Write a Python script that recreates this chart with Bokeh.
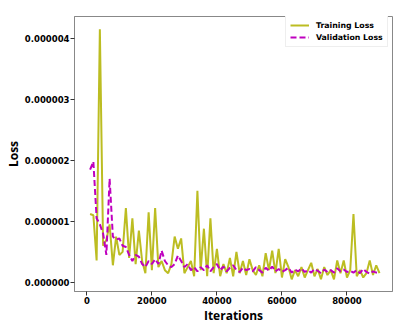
from bokeh.plotting import figure
from bokeh.embed import file_html
from bokeh.resources import INLINE
from bokeh.models import (FixedTicker, PrintfTickFormatter, NumeralTickFormatter,
                          Range1d, Legend, LegendItem)

# ---- data (loss values in units of 1e-6) ----
iterations = list(range(1000, 91000, 1000))

training_loss_e6 = [
    1.12, 1.10, 0.36, 4.15, 0.60, 0.70, 0.95, 0.28, 0.75, 0.45,
    0.50, 1.22, 0.40, 1.05, 0.30, 0.85, 0.35, 0.15, 1.15, 0.20,
    1.22, 0.25, 0.35, 0.20, 0.15, 0.30, 0.75, 0.55, 0.72, 0.15,
    0.25, 0.35, 0.10, 1.50, 0.20, 0.88, 0.10, 1.05, 0.15, 0.55,
    0.10, 0.30, 0.15, 0.40, 0.10, 0.50, 0.15, 0.35, 0.12, 0.38,
    0.20, 0.12, 0.28, 0.10, 0.48, 0.20, 0.52, 0.15, 0.55, 0.08,
    0.38, 0.25, 0.05, 0.20, 0.10, 0.25, 0.08, 0.20, 0.32, 0.10,
    0.22, 0.05, 0.25, 0.12, 0.20, 0.05, 0.36, 0.15, 0.36, 0.08,
    0.20, 1.12, 0.10, 0.20, 0.08, 0.15, 0.36, 0.12, 0.28, 0.15,
]

validation_loss_e6 = [
    1.85, 1.98, 1.05, 0.95, 0.80, 0.45, 1.70, 0.75, 0.70, 0.72,
    0.60, 0.58, 0.45, 0.35, 0.45, 0.42, 0.30, 0.25, 0.35, 0.30,
    0.38, 0.30, 0.52, 0.35, 0.28, 0.25, 0.30, 0.44, 0.35, 0.25,
    0.30, 0.20, 0.25, 0.18, 0.25, 0.20, 0.28, 0.18, 0.25, 0.30,
    0.20, 0.26, 0.18, 0.24, 0.28, 0.20, 0.17, 0.24, 0.20, 0.22,
    0.18, 0.25, 0.20, 0.16, 0.24, 0.19, 0.26, 0.18, 0.22, 0.17,
    0.20, 0.24, 0.16, 0.21, 0.18, 0.23, 0.17, 0.20, 0.16, 0.22,
    0.19, 0.15, 0.21, 0.17, 0.20, 0.16, 0.23, 0.18, 0.21, 0.17,
    0.19, 0.16, 0.20, 0.15, 0.22, 0.17, 0.14, 0.18, 0.16, 0.15,
]

training_loss = [v * 1e-6 for v in training_loss_e6]
validation_loss = [v * 1e-6 for v in validation_loss_e6]

x_ticks = [0, 20000, 40000, 60000, 80000]
y_ticks = [0.0, 1e-6, 2e-6, 3e-6, 4e-6]

TRAIN_COLOR = "#bcbd22"
VAL_COLOR = "#bf00bf"

p = figure(
    width=402, height=330,
    output_backend="svg", toolbar_location=None,
    x_range=Range1d(-3800, 94000), y_range=Range1d(-0.15e-6, 4.36e-6),
    min_border_left=74, min_border_right=10, min_border_top=16, min_border_bottom=39,
)
p.background_fill_color = "white"
p.border_fill_color = "white"
p.outline_line_color = "#888888"
p.outline_line_width = 1
p.xgrid.visible = False
p.ygrid.visible = False

r_train = p.line(iterations, training_loss, line_color=TRAIN_COLOR, line_width=2)
r_val = p.line(iterations, validation_loss, line_color=VAL_COLOR, line_width=2, line_dash="6 3")

legend = Legend(
    items=[LegendItem(label="Training Loss", renderers=[r_train]),
           LegendItem(label="Validation Loss", renderers=[r_val])],
    location=(211, 244),
    margin=0, padding=4, spacing=2,
    glyph_width=19, glyph_height=10, label_height=10, label_standoff=7,
    label_text_font="DejaVu Sans", label_text_font_style="bold", label_text_font_size="7.8px",
    label_text_color="black",
    border_line_color="#dddddd", border_line_width=1,
    background_fill_color="white", background_fill_alpha=1.0,
)
p.add_layout(legend)

for ax in (p.xaxis[0], p.yaxis[0]):
    ax.axis_line_color = "#888888"
    ax.major_tick_line_color = "#333333"
    ax.major_tick_out = 4
    ax.major_tick_in = 0
    ax.minor_tick_line_color = None
    ax.major_label_text_font = "DejaVu Sans"
    ax.major_label_text_font_style = "bold"
    ax.major_label_text_font_size = "8.5px"
    ax.major_label_text_color = "black"
    ax.major_label_standoff = 1
    ax.axis_label_text_font = "Open Sans"
    ax.axis_label_text_font_style = "bold"
    ax.axis_label_text_font_size = "12px"
    ax.axis_label_text_color = "black"

p.xaxis.ticker = FixedTicker(ticks=x_ticks)
p.xaxis.formatter = NumeralTickFormatter(format="0")
p.xaxis.axis_label = "Iterations"
p.xaxis.axis_label_standoff = 0

p.yaxis.ticker = FixedTicker(ticks=y_ticks)
p.yaxis.formatter = PrintfTickFormatter(format="%.6f")
p.yaxis.axis_label = "Loss"
p.yaxis.axis_label_standoff = 0

open("out.html", "w").write(file_html(p, INLINE))
